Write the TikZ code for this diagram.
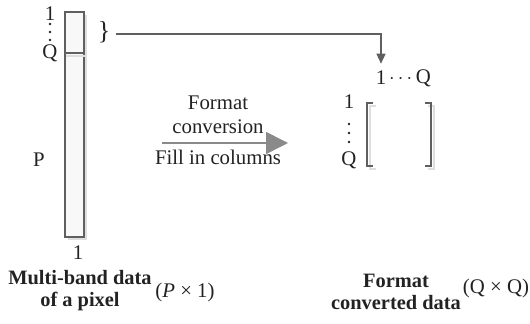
\documentclass[tikz,border=0pt]{standalone}
\usepackage{fontspec}
\setmainfont{Liberation Serif}
\usetikzlibrary{positioning,arrows.meta}
\definecolor{ink}{HTML}{222222}
\definecolor{edge}{HTML}{5F5F5F}
\definecolor{shade}{HTML}{DEDEDE}
\definecolor{cellfill}{HTML}{F8F8F8}
\definecolor{flow}{HTML}{8A8A8A}

\begin{document}
\begin{tikzpicture}[x=0.5pt, y=-0.5pt,
  lbl/.style={font=\fontsize{10.4}{12}\selectfont, text=ink, inner sep=0pt, align=center},
  captxt/.style={font=\bfseries\fontsize{10.2}{11}\selectfont, text=ink, align=center, inner sep=0pt},
  cell/.style={draw=edge, fill=cellfill, line width=0.6pt},
  shadow/.style={fill=shade, draw=none},
  wire/.style={draw=edge, line width=0.6pt},
  wireshade/.style={draw=shade, line width=0.9pt},
  arrow/.style={-{Triangle[length=11pt, width=11pt, fill=flow]}, draw=flow, line width=0.8pt},
  tip/.style={-{Triangle[length=5pt, width=4.5pt, fill=edge]}},
  dot/.style={circle, fill=ink, inner sep=0pt, minimum size=1.3pt}
]
\useasboundingbox (0,0) rectangle (530,324);

% pixel column (P x 1)
\fill[shadow] (68,15) rectangle (87,240);
\draw[cell] (65,12) rectangle (84,237);
\draw[wireshade] (66,56) -- (87,56);
\draw[wire] (65,53) -- (84,53);

\node[lbl] (top1) at (50,14) {1};
\foreach \k in {0,1,2}
  \node[dot] (topdot\k) at (50,24+8*\k) {};
\node[lbl] (topQ) at (50,53) {Q};
\node[lbl] (bandP) at (39,160) {P};
\node[lbl] (bot1) at (78,253) {1};

% first Q bands taken out
\node[lbl, font=\fontsize{13}{13}\selectfont] (brace) at (104,32) {\}};
\coordinate (lineL) at (116,34);

% converted matrix (Q x Q)
\node[lbl] (colone) at (381,78) {1};
\node[lbl, right=1pt of colone] (colrest) {$\cdots$\,Q};
\node[lbl] (rowone) at (349,102) {1};
\foreach \k in {0,1,2}
  \node[dot] (rowdot\k) at (349,124+9*\k) {};
\node[lbl] (rowQ) at (349,160) {Q};

\draw[wireshade] (376,106) -- (370,106) -- (370,169) -- (376,169);
\draw[wireshade] (428,106) -- (434,106) -- (434,169) -- (428,169);
\draw[wire] (373,103) -- (367,103) -- (367,166) -- (373,166);
\draw[wire] (425,103) -- (431,103) -- (431,166) -- (425,166);

% connector from the brace to the matrix
\draw[wireshade, shift={(2,2)}, shorten >=9pt] (lineL) -| (colone.north);
\draw[wire, tip, shorten >=3.5pt] (lineL) -| (colone.north);

% format conversion
\coordinate (convL) at (162,143);
\coordinate (convR) at (288,143);
\draw[arrow] (convL) -- (convR);
\node[lbl] (convtxt) at (218,115) {Format\\conversion};
\node[lbl] (filltxt) at (218,157) {Fill in columns};

% captions
\node[captxt] (pixcap) at (80,291) {Multi-band data\\of a pixel};
\node[lbl] (pixsize) at (185,293) {(\textit{P} × 1)};
\node[captxt] (fmtcap) at (396,292) {Format\\converted data};
\node[lbl] (fmtsize) at (496,289) {(Q × Q)};

\end{tikzpicture}
\end{document}
